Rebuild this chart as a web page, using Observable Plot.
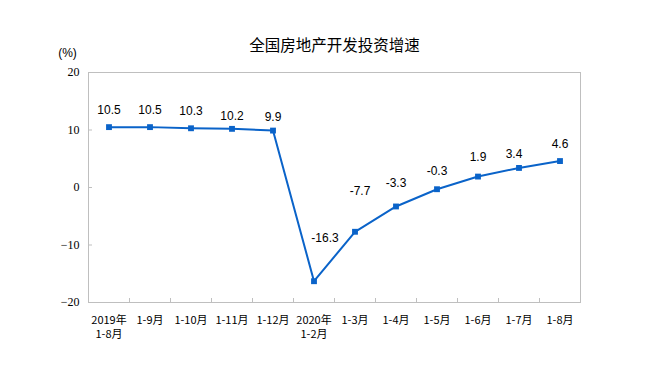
<!DOCTYPE html>
<html>
<head>
<meta charset="utf-8">
<script src="https://cdn.jsdelivr.net/npm/d3@7"></script>
<script src="https://cdn.jsdelivr.net/npm/@observablehq/plot@0.6"></script>
<style>
  html, body { margin: 0; padding: 0; background: #fff; }
  #chart { position: relative; width: 650px; height: 372px; }
</style>
</head>
<body>
<div id="chart"></div>
<script>
const title = "全国房地产开发投资增速";
const unitLabel = "(%)";
const categories = ["2019年\n1-8月", "1-9月", "1-10月", "1-11月", "1-12月", "2020年\n1-2月",
  "1-3月", "1-4月", "1-5月", "1-6月", "1-7月", "1-8月"];
const values = [10.5, 10.5, 10.3, 10.2, 9.9, -16.3, -7.7, -3.3, -0.3, 1.9, 3.4, 4.6];
const yTicks = [-20, -10, 0, 10, 20];
// label nudges (pixels) for the value labels
const labelDx = [0, 0, 0, 0, 0, 11, 5, 0, 0, 0, -5, 0];
const labelDy = [-17, -17, -17, -13, -13, -43, -41, -23, -18, -19, -14, -17];

const data = values.map((v, i) => ({i, v, label: v.toFixed(1)}));
const boundaries = d3.range(0.5, categories.length - 0.5, 1);
const blue = "#0a63c9";
const gray = "#bfbfbf";

const labelMarks = data.map((d, k) => Plot.text([d], {
  x: "i", y: "v", text: "label", dx: labelDx[k], dy: labelDy[k],
  fontSize: 12, fill: "#000", fontFamily: "Liberation Sans, Arial, sans-serif"
}));

const plot = Plot.plot({
  width: 650,
  height: 372,
  marginLeft: 88,
  marginRight: 70,
  marginTop: 72,
  marginBottom: 70,
  style: {background: "#fff", overflow: "visible"},
  x: {domain: [-0.5, categories.length - 0.5]},
  y: {domain: [-20, 20]},
  marks: [
    Plot.frame({stroke: gray}),
    Plot.axisY({ticks: yTicks, tickSize: -4, stroke: gray, tickPadding: 13,
      fontSize: 12, fontFamily: "Liberation Serif, Times New Roman, serif", fill: "#000", label: null}),
    Plot.axisX({ticks: boundaries, tickSize: -4, stroke: gray, text: null, label: null}),
    Plot.axisX({ticks: d3.range(categories.length), tickSize: 0, tickPadding: 11,
      tickFormat: i => categories[i], lineAnchor: "top", lineHeight: 1.32,
      fontSize: 11, fontFamily: "Noto Sans CJK SC, sans-serif", fill: "#000", label: null}),
    Plot.line(data, {x: "i", y: "v", stroke: blue, strokeWidth: 2}),
    Plot.dot(data, {x: "i", y: "v", symbol: "square", r: 3.3, fill: blue, stroke: "none"}),
    ...labelMarks,
    Plot.text([title], {frameAnchor: "top", dy: -33, dx: 0, fontSize: 15.5,
      fontFamily: "Noto Sans CJK SC, sans-serif", fill: "#000"}),
    Plot.text([unitLabel], {frameAnchor: "top-left", dx: -21, dy: -24, textAnchor: "middle",
      fontSize: 12, fontFamily: "Liberation Sans, Arial, sans-serif", fill: "#000"})
  ]
});
document.getElementById("chart").appendChild(plot);
</script>
</body>
</html>
